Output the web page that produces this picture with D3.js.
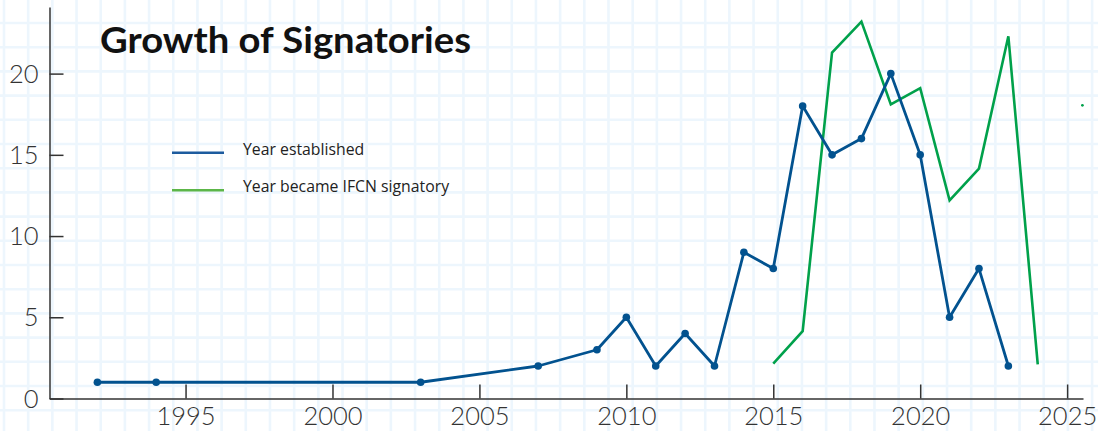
<!DOCTYPE html>
<html>
<head>
<meta charset="utf-8">
<script src="https://cdn.jsdelivr.net/npm/d3@7"></script>
<style>
  body { margin: 0; background: #fff; }
  .axis path, .axis line { stroke: #333; stroke-width: 1.5px; }
  .axis text { font-family: Lato, "Open Sans", sans-serif; font-weight: 300; fill: #333; }
</style>
</head>
<body>
<div id="chart"></div>
<script>
// Year established (blue series)
var estYears = [1992, 1994, 2003, 2007, 2009, 2010, 2011, 2012, 2013, 2014, 2015, 2016, 2017, 2018, 2019, 2020, 2021, 2022, 2023];
var estCounts = [1, 1, 1, 2, 3, 5, 2, 4, 2, 9, 8, 18, 15, 16, 20, 15, 5, 8, 2];

// Year became IFCN signatory (green series)
var ifcnYears = [2015, 2016, 2017, 2018, 2019, 2020, 2021, 2022, 2023, 2024];
var ifcnCounts = [2.15, 4.15, 21.3, 23.2, 18.1, 19.1, 12.2, 14.15, 22.3, 2.1];
// stray green point at the far right
var ifcnExtraYear = [2025.52];
var ifcnExtraCount = [18.05];

var yTicks = [0, 5, 10, 15, 20];
var xTicks = [1995, 2000, 2005, 2010, 2015, 2020, 2025];
var legendLabels = ["Year established", "Year became IFCN signatory"];

var width = 1098,
    height = 431;

var blue = "#02528f",
    green = "#00a14b";

var svg = d3.select("#chart")
    .append("svg")
    .attr("width", width)
    .attr("height", height);

// graph paper background
var grid = svg.append("g").attr("class", "grid");
grid.selectAll("line.v")
    .data(d3.range(4, width, 24.18))
    .enter().append("line")
    .attr("x1", function(d) { return d; })
    .attr("x2", function(d) { return d; })
    .attr("y1", 0).attr("y2", height)
    .attr("stroke", "#edf6fd").attr("stroke-width", 2.6);
grid.selectAll("line.h")
    .data(d3.range(-1.2, height, 24.2))
    .enter().append("line")
    .attr("y1", function(d) { return d; })
    .attr("y2", function(d) { return d; })
    .attr("x1", 0).attr("x2", width)
    .attr("stroke", "#edf6fd").attr("stroke-width", 2.6);

// Set the ranges
var x = d3.scaleLinear().domain([1990.37, 2025.54]).range([49.5, 1083]);
var y = d3.scaleLinear().domain([0, 24.1]).range([398.5, 7]);

// Axes
var xAxis = d3.axisTop(x)
    .tickValues(xTicks)
    .tickFormat(d3.format("d"))
    .tickSize(14)
    .tickSizeOuter(0);

var yAxis = d3.axisRight(y)
    .tickValues(yTicks)
    .tickSize(14)
    .tickSizeOuter(0);

var gx = svg.append("g")
    .attr("class", "x axis")
    .attr("transform", "translate(0," + y(0) + ")")
    .call(xAxis);
gx.selectAll("text")
    .attr("y", 26)
    .attr("dy", 0)
    .style("font-size", "25.5px");

var gy = svg.append("g")
    .attr("class", "y axis")
    .attr("transform", "translate(" + x.range()[0] + ",0)")
    .call(yAxis);
gy.selectAll("text")
    .attr("x", -11)
    .attr("dy", "0.34em")
    .style("text-anchor", "end")
    .style("font-size", "25.5px");

// Lines
var line = d3.line()
    .x(function(d) { return x(d[0]); })
    .y(function(d) { return y(d[1]); });

var estData = d3.zip(estYears, estCounts);
var ifcnData = d3.zip(ifcnYears, ifcnCounts);

svg.append("path")
    .datum(ifcnData)
    .attr("fill", "none")
    .attr("stroke", green)
    .attr("stroke-width", 2.6)
    .attr("d", line);

svg.selectAll("circle.extra")
    .data(d3.zip(ifcnExtraYear, ifcnExtraCount))
    .enter().append("circle")
    .attr("cx", function(d) { return x(d[0]); })
    .attr("cy", function(d) { return y(d[1]); })
    .attr("r", 1.4)
    .attr("fill", green);

svg.append("path")
    .datum(estData)
    .attr("fill", "none")
    .attr("stroke", blue)
    .attr("stroke-width", 2.8)
    .attr("stroke-linejoin", "round")
    .attr("d", line);

svg.selectAll("circle.point")
    .data(estData)
    .enter().append("circle")
    .attr("class", "point")
    .attr("cx", function(d) { return x(d[0]); })
    .attr("cy", function(d) { return y(d[1]); })
    .attr("r", 3.8)
    .attr("fill", blue);

// Title
svg.append("text")
    .attr("x", 100)
    .attr("y", 52.5)
    .attr("textLength", 371)
    .attr("lengthAdjust", "spacingAndGlyphs")
    .style("font-family", "Lato, 'Open Sans', sans-serif")
    .style("font-weight", 700)
    .style("font-size", "36px")
    .style("fill", "#111")
    .text("Growth of Signatories");

// Legend
var legend = svg.append("g").attr("class", "legend");
var legendColors = ["#1c5b9e", "#5cb648"];
var lg = legend.selectAll("g")
    .data(legendLabels)
    .enter().append("g")
    .attr("transform", function(d, i) { return "translate(172," + (152.7 + i * 37.6) + ")"; });
lg.append("line")
    .attr("x1", 0).attr("x2", 52)
    .attr("stroke", function(d, i) { return legendColors[i]; })
    .attr("stroke-width", 2.6);
lg.append("text")
    .attr("x", 71)
    .attr("dy", "0.12em")
    .style("font-family", "'Open Sans', Lato, sans-serif")
    .style("font-size", "15.8px")
    .style("fill", "#222")
    .text(function(d) { return d; });
</script>
</body>
</html>
